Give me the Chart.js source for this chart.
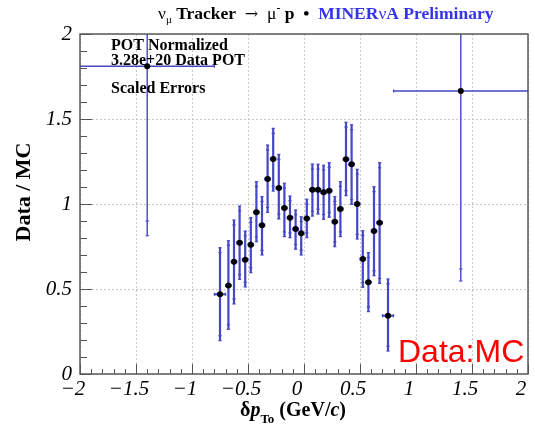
<!DOCTYPE html>
<html>
<head>
<meta charset="utf-8">
<script src="https://cdn.jsdelivr.net/npm/chart.js@4.4.1/dist/chart.umd.min.js"></script>
<style>
  html, body { margin: 0; padding: 0; background: #fff; }
  #wrap { position: relative; width: 535px; height: 429px; }
  canvas { display: block; }
</style>
</head>
<body>
<div id="wrap"><canvas id="c" width="535" height="429"></canvas></div>
<script>
// Data / MC ratio in bins of delta p_T (GeV/c)
const binCenters = [-1.4, -0.75, -0.675, -0.625, -0.575, -0.525, -0.475, -0.425, -0.375, -0.325,
  -0.275, -0.225, -0.175, -0.125, -0.075, -0.025, 0.025, 0.075, 0.125, 0.175,
  0.225, 0.275, 0.325, 0.375, 0.425, 0.475, 0.525, 0.575, 0.625, 0.675, 0.75, 1.4];
const binHalfWidths = [0.6, 0.05, 0.025, 0.025, 0.025, 0.025, 0.025, 0.025, 0.025, 0.025,
  0.025, 0.025, 0.025, 0.025, 0.025, 0.025, 0.025, 0.025, 0.025, 0.025,
  0.025, 0.025, 0.025, 0.025, 0.025, 0.025, 0.025, 0.025, 0.025, 0.025, 0.05, 0.6];
const ratio = [1.81, 0.469, 0.52, 0.66, 0.772, 0.672, 0.761, 0.951, 0.875, 1.147,
  1.265, 1.094, 0.976, 0.919, 0.853, 0.828, 0.914, 1.084, 1.084, 1.069,
  1.078, 0.896, 0.971, 1.263, 1.234, 1.0, 0.676, 0.539, 0.841, 0.89, 0.343, 1.665];
// total-error band (ends of the error bar)
const totalHigh = [2.8, 0.743, 0.784, 0.906, 0.988, 0.841, 0.92, 1.131, 1.043, 1.347,
  1.445, 1.292, 1.122, 1.047, 0.965, 0.925, 1.028, 1.235, 1.234, 1.228,
  1.243, 1.043, 1.131, 1.481, 1.466, 1.204, 0.843, 0.714, 1.102, 1.243, 0.559, 2.78];
const totalLow = [0.813, 0.196, 0.263, 0.412, 0.557, 0.512, 0.596, 0.778, 0.7, 0.951,
  1.076, 0.912, 0.808, 0.802, 0.734, 0.7, 0.802, 0.929, 0.941, 0.91,
  0.922, 0.749, 0.808, 1.049, 0.998, 0.794, 0.51, 0.367, 0.578, 0.533, 0.135, 0.547];
// statistical-error marks (inner ticks on each bar)
const statHigh = [2.7, 0.714, 0.757, 0.877, 0.96, 0.813, 0.892, 1.103, 1.015, 1.318,
  1.415, 1.263, 1.094, 1.019, 0.937, 0.897, 1.0, 1.206, 1.205, 1.2,
  1.215, 1.015, 1.103, 1.452, 1.437, 1.176, 0.815, 0.686, 1.073, 1.213, 0.531, 2.7];
const statLow = [0.9, 0.225, 0.29, 0.441, 0.585, 0.54, 0.624, 0.806, 0.728, 0.98,
  1.105, 0.94, 0.836, 0.83, 0.762, 0.728, 0.83, 0.957, 0.969, 0.938,
  0.95, 0.777, 0.836, 1.078, 1.026, 0.822, 0.538, 0.395, 0.607, 0.562, 0.163, 0.618];

const xTickValues = [-2, -1.5, -1, -0.5, 0, 0.5, 1, 1.5, 2];
const yTickValues = [0, 0.5, 1, 1.5, 2];

const BAR_COLOR = 'rgb(70,70,200)';
const SERIF = '"Liberation Serif", "Times New Roman", serif';

function fmt(v) {
  return v < 0 ? '\u2212' + String(Math.abs(v)) : String(v);
}

function line(ctx, x1, y1, x2, y2) {
  ctx.beginPath(); ctx.moveTo(x1, y1); ctx.lineTo(x2, y2); ctx.stroke();
}

// error bars with bin-width horizontal bars and stat/total ticks
const errorBars = {
  id: 'errorBars',
  beforeDatasetsDraw(chart) {
    const { ctx, chartArea: a, scales: { x, y } } = chart;
    ctx.save();
    ctx.beginPath();
    ctx.rect(a.left, a.top, a.right - a.left, a.bottom - a.top);
    ctx.clip();
    ctx.strokeStyle = BAR_COLOR;
    binCenters.forEach((c, i) => {
      const wide = binHalfWidths[i] > 0.3;
      ctx.lineWidth = wide ? 1.4 : 2.2;
      const px = x.getPixelForValue(c);
      const py = y.getPixelForValue(ratio[i]);
      line(ctx, px, y.getPixelForValue(totalLow[i]), px, y.getPixelForValue(totalHigh[i]));
      const xl = x.getPixelForValue(c - binHalfWidths[i]);
      const xr = x.getPixelForValue(c + binHalfWidths[i]);
      line(ctx, xl, py, xr, py);
      ctx.lineWidth = 1.2;
      [totalLow[i], totalHigh[i], statLow[i], statHigh[i]].forEach(v => {
        const yy = y.getPixelForValue(v);
        line(ctx, px - 1.6, yy, px + 1.6, yy);
      });
      line(ctx, xl, py - 1.5, xl, py + 1.5);
      line(ctx, xr, py - 1.5, xr, py + 1.5);
    });
    ctx.restore();
  }
};

// frame and inward tick marks
const frame = {
  id: 'frame',
  afterDatasetsDraw(chart) {
    const { ctx, chartArea: a, scales: { x, y } } = chart;
    ctx.save();
    ctx.strokeStyle = '#555';
    ctx.lineWidth = 1;
    for (let k = 0; k <= 40; k++) {
      const v = -2 + k * 0.1;
      const px = Math.round(x.getPixelForValue(v)) + 0.5;
      const len = (k % 5 === 0) ? 10 : 5;
      line(ctx, px, a.bottom, px, a.bottom - len);
    }
    for (let k = 0; k <= 20; k++) {
      const v = k * 0.1;
      const py = Math.round(y.getPixelForValue(v)) + 0.5;
      const len = (k % 5 === 0) ? 12 : 7;
      line(ctx, a.left, py, a.left + len, py);
    }
    ctx.strokeStyle = '#5a5a5a';
    ctx.lineWidth = 1.5;
    ctx.strokeRect(a.left, a.top, a.right - a.left, a.bottom - a.top);
    ctx.restore();
  }
};

function drawRuns(ctx, x, y, runs) {
  for (const r of runs) {
    ctx.font = r.font;
    ctx.fillStyle = r.color || '#000';
    ctx.fillText(r.t, x, y + (r.dy || 0));
    x += ctx.measureText(r.t).width;
  }
  return x;
}

// titles and annotations
const labels = {
  id: 'labels',
  afterDraw(chart) {
    const ctx = chart.ctx;
    ctx.save();
    ctx.textBaseline = 'alphabetic';
    ctx.textAlign = 'left';
    const B17 = 'bold 17.5px ' + SERIF;
    const R17 = '17.5px ' + SERIF;
    const BLUE = 'rgb(52,52,235)';
    drawRuns(ctx, 158, 19, [
      { t: '\u03bd', font: R17 },
      { t: '\u03bc', font: '11px ' + SERIF, dy: 4 },
      { t: ' Tracker  ', font: B17 },
      { t: '\u2192', font: '16px "DejaVu Serif"' },
      { t: '  \u03bc', font: R17 },
      { t: '-', font: '12px ' + SERIF, dy: -7 },
      { t: ' p  \u2022  ', font: B17 },
      { t: 'MINER', font: B17, color: BLUE },
      { t: '\u03bd', font: R17, color: BLUE },
      { t: 'A Preliminary', font: B17, color: BLUE }
    ]);

    ctx.font = 'bold 16px ' + SERIF;
    ctx.fillStyle = '#000';
    ctx.fillText('POT Normalized', 111, 50);
    ctx.fillText('3.28e+20 Data POT', 111, 64.5);
    ctx.fillText('Scaled Errors', 111, 93);

    // x-axis title
    const B20 = 'bold 20px ' + SERIF;
    const BI20 = 'italic bold 20px ' + SERIF;
    drawRuns(ctx, 240, 416, [
      { t: '\u03b4', font: B20 },
      { t: 'p', font: BI20 },
      { t: 'To', font: 'bold 13px ' + SERIF, dy: 7 },
      { t: ' (GeV/', font: B20 },
      { t: 'c', font: BI20 },
      { t: ')', font: B20 }
    ]);

    // y-axis title
    ctx.save();
    ctx.translate(24, 192);
    ctx.rotate(-Math.PI / 2);
    ctx.textAlign = 'center';
    ctx.textBaseline = 'middle';
    ctx.font = 'bold 22px ' + SERIF;
    ctx.fillText('Data / MC', 0, 0);
    ctx.restore();

    ctx.font = '32px "Liberation Sans", Arial, sans-serif';
    ctx.fillStyle = '#ff0000';
    ctx.fillText('Data:MC', 398, 362);
    ctx.restore();
  }
};

const points = binCenters.map((c, i) => ({ x: c, y: ratio[i] }));

new Chart(document.getElementById('c'), {
  type: 'scatter',
  data: {
    datasets: [{
      data: points,
      pointStyle: 'circle',
      pointRadius: 3,
      pointBorderWidth: 0,
      pointBackgroundColor: '#000',
      pointBorderColor: '#000'
    }]
  },
  options: {
    responsive: false,
    animation: false,
    layout: { padding: { top: 34, right: 7, left: 0, bottom: 0 } },
    plugins: { legend: { display: false }, tooltip: { enabled: false }, title: { display: false } },
    scales: {
      x: {
        type: 'linear', min: -2, max: 2,
        afterBuildTicks: s => { s.ticks = xTickValues.map(v => ({ value: v })); },
        afterFit: s => { s.height = 55; s.paddingLeft = 0; s.paddingRight = 0; },
        ticks: {
          callback: v => fmt(v), padding: 3, labelOffset: -7, maxRotation: 0, autoSkip: false,
          color: '#000', font: { family: SERIF, size: 21, style: 'italic' }
        },
        grid: { color: '#c8c8c8', lineWidth: 1, drawTicks: false },
        border: { display: false, dash: [2, 2] }
      },
      y: {
        type: 'linear', min: 0, max: 2,
        afterBuildTicks: s => { s.ticks = yTickValues.map(v => ({ value: v })); },
        afterFit: s => { s.width = 80; s.paddingTop = 0; s.paddingBottom = 0; },
        ticks: {
          callback: v => fmt(v), padding: 8, autoSkip: false,
          color: '#000', font: { family: SERIF, size: 21, style: 'italic' }
        },
        grid: { color: '#c8c8c8', lineWidth: 1, drawTicks: false },
        border: { display: false, dash: [2, 2] }
      }
    }
  },
  plugins: [errorBars, frame, labels]
});
</script>
</body>
</html>
